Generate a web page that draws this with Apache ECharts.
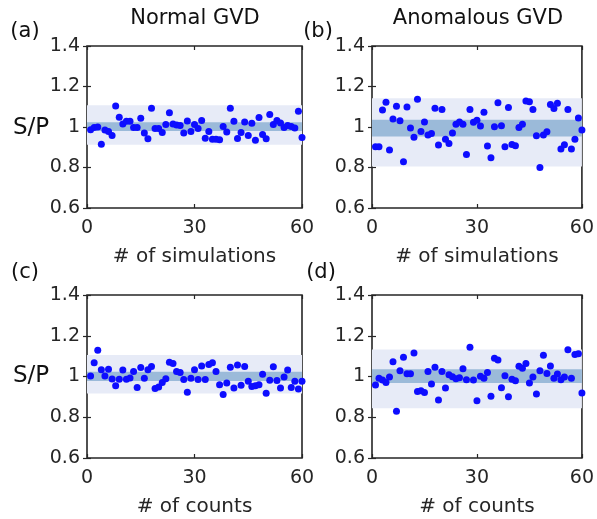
<!DOCTYPE html>
<html>
<head>
<meta charset="utf-8">
<title>S/P scatter</title>
<script src="https://cdn.jsdelivr.net/npm/echarts@6/dist/echarts.min.js"></script>
<style>
html, body { margin: 0; padding: 0; background: #fff; }
#main { width: 597px; height: 519px; }
</style>
</head>
<body>
<div id="main"></div>
<script>
// S/P per run (runs 1..60)
var spNormalSim = [0.987, 0.997, 1.000, 0.915, 0.985, 0.978, 0.958, 1.104, 1.048, 1.015,
	1.028, 1.028, 0.998, 0.998, 1.043, 0.970, 0.942, 1.092, 0.993, 0.993,
	0.973, 1.012, 1.070, 1.015, 1.010, 1.008, 0.970, 1.030, 0.978, 1.012,
	0.992, 1.032, 0.945, 0.978, 0.940, 0.940, 0.937, 1.002, 0.975, 1.092,
	1.028, 0.943, 0.973, 1.025, 0.958, 1.018, 0.935, 1.047, 0.963, 0.942,
	1.062, 1.012, 1.032, 1.020, 0.997, 1.008, 1.003, 0.995, 1.078, 0.948];
var spAnomSim = [0.902, 0.902, 1.084, 1.122, 0.887, 1.040, 1.102, 1.031, 0.829, 1.099,
	0.995, 0.950, 1.137, 0.978, 1.025, 0.960, 0.968, 1.093, 0.911, 1.086,
	0.940, 0.919, 0.970, 1.013, 1.025, 1.013, 0.864, 1.086, 1.023, 1.033,
	1.005, 1.073, 0.906, 0.848, 1.001, 1.120, 1.006, 0.902, 1.096, 0.914,
	0.907, 0.998, 1.013, 1.129, 1.125, 1.086, 0.957, 0.800, 0.960, 0.977,
	1.111, 1.091, 1.117, 0.891, 0.912, 1.087, 0.891, 0.939, 1.044, 0.985];
var spNormalCnt = [1.002, 1.067, 1.129, 1.033, 1.002, 1.035, 0.988, 0.955, 0.986, 1.032,
	0.986, 0.993, 1.025, 0.946, 1.044, 0.991, 1.033, 1.049, 0.941, 0.949,
	0.970, 0.989, 1.070, 1.064, 1.025, 1.020, 0.985, 0.923, 0.991, 1.033,
	0.985, 1.051, 0.985, 1.059, 1.067, 1.025, 0.960, 0.912, 0.968, 1.046,
	0.943, 1.056, 0.957, 1.049, 0.977, 0.951, 0.954, 0.960, 1.011, 0.918,
	0.981, 1.048, 0.980, 0.944, 0.998, 1.032, 0.946, 0.977, 0.939, 0.977];
var spAnomCnt = [0.958, 0.992, 0.983, 0.971, 0.997, 1.072, 0.829, 1.028, 1.095, 1.014,
	1.014, 1.115, 0.926, 0.930, 0.922, 1.025, 0.963, 1.045, 0.885, 1.025,
	0.944, 1.009, 0.999, 0.989, 0.994, 1.038, 0.984, 1.144, 0.983, 0.881,
	1.001, 0.992, 1.020, 0.903, 1.089, 1.081, 0.945, 1.004, 0.901, 0.986,
	0.979, 1.050, 1.040, 1.064, 0.968, 0.997, 0.914, 1.028, 1.104, 1.015,
	1.051, 0.991, 1.012, 0.984, 0.997, 1.131, 0.992, 1.108, 1.112, 0.919];

// shaded bands [low, high] per panel
var bandOuter = [[0.912, 1.108], [0.805, 1.142], [0.916, 1.105], [0.844, 1.133]];
var bandInner = [[0.980, 1.023], [0.953, 1.036], [0.978, 1.023], [0.968, 1.035]];

var xTicks = [0, 30, 60];
var yTicks = [0.6, 0.8, 1, 1.2, 1.4];
var panelTitles = ['Normal GVD', 'Anomalous GVD'];
var panelTags = ['(a)', '(b)', '(c)', '(d)'];
var xNames = ['# of simulations', '# of simulations', '# of counts', '# of counts'];
var yName = 'S/P';

(function() {
	'use strict';
	var FONT = '"DejaVu Sans", sans-serif';
	var INK = '#262626';
	var panels = [spNormalSim, spAnomSim, spNormalCnt, spAnomCnt];

	// shallow copy + override, enough for the axis configs
	function mix(base, extra) {
		var o = {}, key;
		for (key in base) o[key] = base[key];
		for (key in extra) o[key] = extra[key];
		return o;
	}

	var grids = [
		{ left: 87, top: 46, width: 215, height: 162 },
		{ left: 372, top: 46, width: 214, height: 162 },
		{ left: 87, top: 295, width: 215, height: 163 },
		{ left: 372, top: 295, width: 214, height: 163 }
	];

	var tickStyle = { show: true, inside: true, length: 4, lineStyle: { color: INK, width: 1.2 } };
	var xAxes = [], yAxes = [], series = [];
	for (var i = 0; i < panels.length; i++) {
		grids[i].show = true;
		grids[i].borderColor = INK;
		grids[i].borderWidth = 1.6;
		grids[i].backgroundColor = '#fff';

		var xBase = {
			type: 'value',
			gridIndex: i,
			min: xTicks[0],
			max: xTicks[xTicks.length - 1],
			interval: xTicks[1] - xTicks[0],
			axisLine: { show: false },
			axisTick: tickStyle,
			splitLine: { show: false }
		};
		var yBase = {
			type: 'value',
			gridIndex: i,
			min: yTicks[0],
			max: yTicks[yTicks.length - 1],
			interval: 0.2,
			axisLine: { show: false },
			axisTick: tickStyle,
			splitLine: { show: false }
		};

		// bottom / left carry the labels
		xAxes.push(mix(xBase, {
			position: 'bottom',
			name: xNames[i],
			nameLocation: 'middle',
			nameGap: 39,
			nameTextStyle: { fontFamily: FONT, fontSize: 20, color: INK },
			axisLabel: { show: true, margin: 11, fontFamily: FONT, fontSize: 19, color: INK }
		}));
		// top / right only mirror the ticks
		xAxes.push(mix(xBase, { position: 'top', axisLabel: { show: false } }));
		yAxes.push(mix(yBase, {
			position: 'left',
			axisLabel: {
				show: true, margin: 7, fontFamily: FONT, fontSize: 19, color: INK,
				formatter: function(v) { return String(+v.toFixed(1)); }
			}
		}));
		yAxes.push(mix(yBase, { position: 'right', axisLabel: { show: false } }));

		var pts = [];
		for (var k = 0; k < panels[i].length; k++) {
			pts.push([k + 1, panels[i][k]]);
		}
		series.push({
			type: 'scatter',
			xAxisIndex: 2 * i,
			yAxisIndex: 2 * i,
			symbol: 'circle',
			symbolSize: 7,
			clip: false,
			itemStyle: { color: '#0d0dff', opacity: 1 },
			data: pts,
			markArea: {
				silent: true,
				data: [
					[{ coord: [xTicks[0], bandOuter[i][0]], itemStyle: { color: '#e7ebf7', opacity: 1 } },
						{ coord: [xTicks[xTicks.length - 1], bandOuter[i][1]] }],
					[{ coord: [xTicks[0], bandInner[i][0]], itemStyle: { color: '#9bbad9', opacity: 1 } },
						{ coord: [xTicks[xTicks.length - 1], bandInner[i][1]] }]
				]
			}
		});
	}

	function label(txt, x, y, size) {
		return {
			type: 'text',
			x: x,
			y: y,
			z: 100,
			style: {
				text: txt,
				font: size + 'px ' + FONT,
				fill: '#111',
				align: 'center',
				verticalAlign: 'middle'
			}
		};
	}

	var graphics = [
		label(panelTitles[0], 195, 19, 21),
		label(panelTitles[1], 478, 19, 21),
		label(panelTags[0], 25, 32, 21),
		label(panelTags[1], 318, 32, 21),
		label(panelTags[2], 25, 273, 21),
		label(panelTags[3], 321, 273, 21),
		label(yName, 31, 128, 23),
		label(yName, 31, 376, 23)
	];

	var chart = echarts.init(document.getElementById('main'), null, { renderer: 'canvas' });
	chart.setOption({
		animation: false,
		grid: grids,
		xAxis: xAxes,
		yAxis: yAxes,
		series: series,
		graphic: graphics
	});
	window.onresize = chart.resize;
})();
</script>
</body>
</html>
